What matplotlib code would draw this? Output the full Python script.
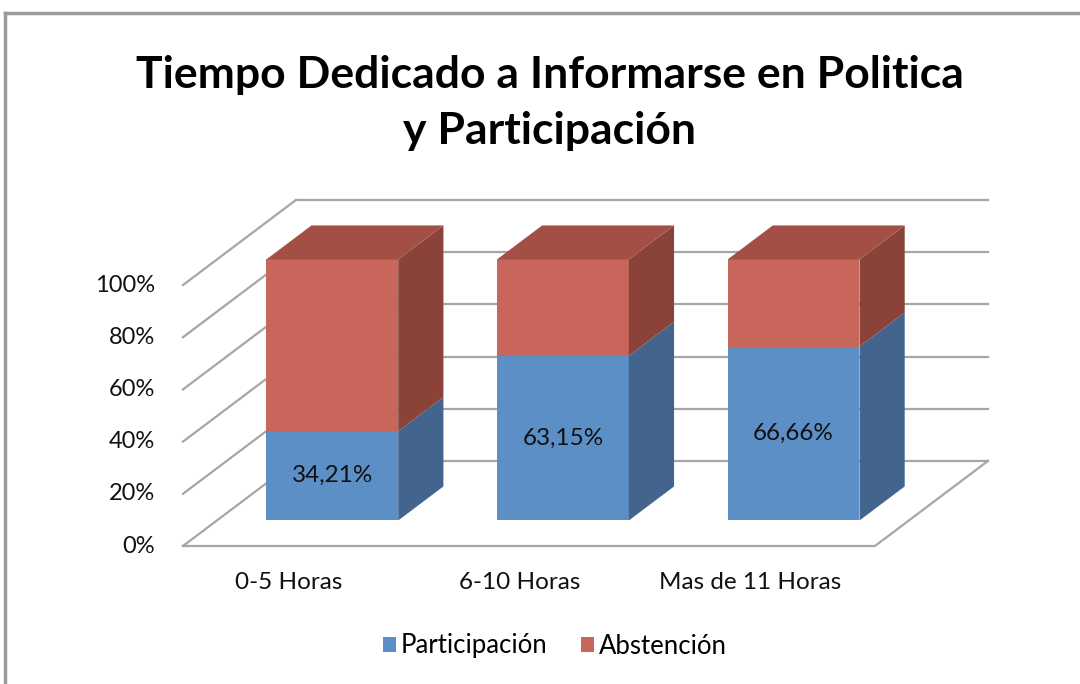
import matplotlib
matplotlib.use("Agg")
import matplotlib.pyplot as plt
from matplotlib.patches import Polygon, Patch
from matplotlib.lines import Line2D

plt.rcParams['font.family'] = ['Lato', 'DejaVu Sans']

# ---- data ----
categories = ["0-5 Horas", "6-10 Horas", "Mas de 11 Horas"]
participacion = [34.21, 63.15, 66.66]
abstencion = [65.79, 36.85, 33.34]
data_labels = ["34,21%", "63,15%", "66,66%"]
yticks = [0, 20, 40, 60, 80, 100]
ytick_labels = ["0%", "20%", "40%", "60%", "80%", "100%"]
series_names = ["Participación", "Abstención"]
title = "Tiempo Dedicado a Informarse en Politica\ny Participación"

# ---- style ----
blue_front, blue_side, blue_top = "#5B8FC6", "#43658D", "#4F7DB0"
red_front, red_side, red_top = "#C9665B", "#8A4239", "#A34F45"
grid_col = "#A6A6A6"
DX, DY = 0.49, 32.6          # depth offset (data units)
D0, D1 = 0.30, 0.70          # bar depth span
HALF_W = 0.286

fig = plt.figure(figsize=(10.8, 6.84), dpi=100)
ax = fig.add_axes([0, 0, 1, 1])
ax.set_xlim(-0.7934, 3.889)
ax.set_ylim(-52.87, 209.2)
ax.axis('off')

# walls / grid
n = len(categories)
for v in yticks:
    ax.plot([0, DX], [v, v + DY], color=grid_col, lw=1.6, zorder=1)
    ax.plot([DX, n + DX], [v + DY, v + DY], color=grid_col, lw=1.6, zorder=1)
ax.plot([0, n, n + DX], [0, 0, DY], color=grid_col, lw=1.6, zorder=1)

def box(xl, xr, y0, y1, front, side, top=None, z=2):
    ax.add_patch(Polygon([(xl + D0*DX, y0 + D0*DY), (xr + D0*DX, y0 + D0*DY),
                          (xr + D0*DX, y1 + D0*DY), (xl + D0*DX, y1 + D0*DY)],
                         closed=True, fc=front, ec='none', zorder=z))
    ax.add_patch(Polygon([(xr + D0*DX, y0 + D0*DY), (xr + D1*DX, y0 + D1*DY),
                          (xr + D1*DX, y1 + D1*DY), (xr + D0*DX, y1 + D0*DY)],
                         closed=True, fc=side, ec='none', zorder=z))
    if top is not None:
        ax.add_patch(Polygon([(xl + D0*DX, y1 + D0*DY), (xr + D0*DX, y1 + D0*DY),
                              (xr + D1*DX, y1 + D1*DY), (xl + D1*DX, y1 + D1*DY)],
                             closed=True, fc=top, ec='none', zorder=z))

for i, (p, a) in enumerate(zip(participacion, abstencion)):
    xc = i + 0.5
    xl, xr = xc - HALF_W, xc + HALF_W
    box(xl, xr, 0, p, blue_front, blue_side)
    box(xl, xr, p, p + a, red_front, red_side, red_top)
    ax.text(xc + D0*DX, p/2 + D0*DY, data_labels[i], ha='center', va='center',
            fontsize=17.5, color='#111111', zorder=5)
    ax.text(xc - 0.04, -13.8, categories[i], ha='center', va='center',
            fontsize=17.5, color='#111111')

for v, lab in zip(yticks, ytick_labels):
    ax.text(-0.12, v, lab, ha='right', va='center', fontsize=17, color='#111111')

fig.text(0.509, 1 - 103/684, title, ha='center', va='center', fontsize=32,
         fontweight='bold', linespacing=1.5, color='black')

handles = [Patch(fc=blue_front, ec='none'), Patch(fc=red_front, ec='none')]
fig.legend(handles, series_names, loc='center', bbox_to_anchor=(555/1080, 1 - 646/684),
           ncol=2, frameon=False, fontsize=18.5, handlelength=0.5, handleheight=0.55,
           handletextpad=0.2, columnspacing=1.3)

# frame
fig.add_artist(Line2D([5/1080, 1], [1 - 13/684, 1 - 13/684], transform=fig.transFigure,
                      color='#9A9A9A', lw=2.5))
fig.add_artist(Line2D([5/1080, 5/1080], [0, 1 - 13/684], transform=fig.transFigure,
                      color='#9A9A9A', lw=2.5))

fig.savefig("out.png", dpi=100)
